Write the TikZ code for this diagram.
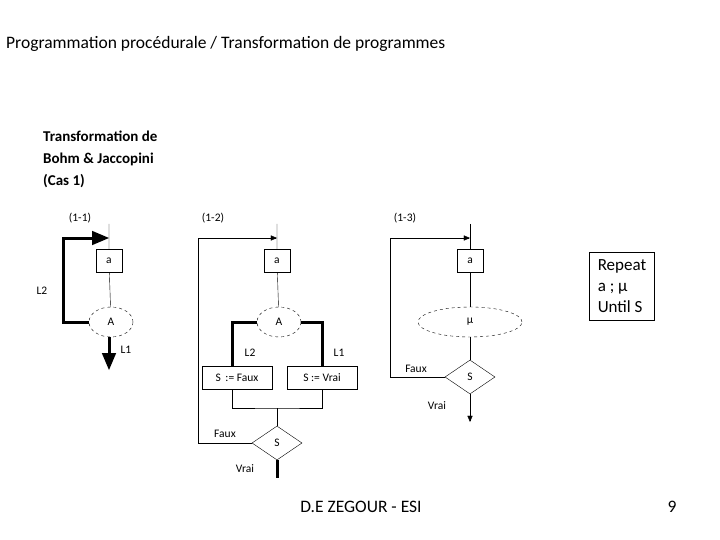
\documentclass[tikz,border=0pt]{standalone}
\usepackage{fontspec}
\setmainfont{Carlito}
\usetikzlibrary{arrows,shapes.geometric,positioning}
\tikzset{
	blk/.style={draw, minimum width=26pt, minimum height=23pt, inner sep=1pt, font=\fontsize{11.5}{13}\selectfont},
	cond/.style={draw, dashed, ellipse, minimum width=44pt, minimum height=30pt, inner sep=0pt, font=\fontsize{11.5}{13}\selectfont},
	test/.style={draw, diamond, aspect=1.5, minimum width=50pt, minimum height=34pt, inner sep=0pt, font=\fontsize{11.5}{13}\selectfont},
	lab/.style={font=\fontsize{11.5}{13}\selectfont, inner sep=0pt},
	thick path/.style={line width=3pt},
}
\begin{document}
\begin{tikzpicture}[x=1pt,y=-1pt,>=triangle 45]
\useasboundingbox (0,0) rectangle (720,540);
\node[anchor=west,inner sep=0pt,font=\fontsize{17.5}{20}\selectfont] (title) at (6,44) {Programmation procédurale / Transformation de programmes};
\node[anchor=north west,inner sep=0pt,align=left,font=\bfseries\fontsize{15}{22}\selectfont] (head) at (43,131) {Transformation de\\Bohm \& Jaccopini\\(Cas 1)};
\node[font=\fontsize{17.5}{20}\selectfont] (foot) at (361,507) {D.E ZEGOUR - ESI};
\node[font=\fontsize{17.5}{20}\selectfont] (num) at (672,507) {9};
% (1-1)
\node[lab] (c11) at (80,218) {(1-1)};
\coordinate (t11) at (109,224);
\coordinate (j11) at (109,238);
\node[blk] (a11) at (109,261) {a};
\node[cond] (A11) at (111,322) {A};
\coordinate (e11) at (109,370);
\draw (t11) -- (a11) -- (A11);
\draw[thick path,->] (A11.west) -- ++(-25,0) |- (j11);
\draw[thick path,->] (A11.south -| e11) -- (e11);
\node[lab] (l211) at (42,291) {L2};
\node[lab] (l111) at (126,350) {L1};
% (1-2)
\node[lab] (c12) at (213,218) {(1-2)};
\coordinate (t12) at (277,224);
\coordinate (j12) at (277,238);
\node[blk] (a12) at (277,261) {a};
\node[cond] (A12) at (279,322) {A};
\node[blk,minimum width=70pt] (sf) at (237,378) {S \,:= Faux};
\node[blk,minimum width=70pt] (sv) at (322,378) {S := Vrai};
\node[test] (s12) at (277,443) {S};
\coordinate (m12) at (277,408);
\coordinate (e12) at (277,478);
\draw (t12) -- (a12) -- (A12);
\draw[thick path] (A12.west) -| ([xshift=-5pt]sf.north);
\draw[thick path] (A12.east) -| (sv.north);
\draw ([xshift=-5pt]sf.south) |- (m12) -| (sv.south);
\draw (m12) -- (s12.north);
\draw[->] (s12.west) -- ++(-54,0) |- (j12);
\draw[thick path] (s12.south) -- (e12);
\node[lab] (l212) at (250,353) {L2};
\node[lab] (l112) at (339,353) {L1};
\node[lab] (f12) at (225,434) {Faux};
\node[lab] (v12) at (245,469) {Vrai};
% (1-3)
\node[lab] (c13) at (405,218) {(1-3)};
\coordinate (t13) at (470,224);
\coordinate (j13) at (470,238);
\node[blk] (a13) at (470,261) {a};
\node[cond,minimum width=104pt] (mu) at (470,322) {µ};
\node[test] (s13) at (470,377) {S};
\coordinate (e13) at (470,422);
\draw (t13) -- (a13) -- (mu) -- (s13);
\draw[->] (s13.west) -- ++(-55,0) |- (j13);
\draw[->] (s13.south) -- (e13);
\node[lab] (f13) at (416,369) {Faux};
\node[lab] (v13) at (437,406) {Vrai};
\node[draw,align=left,minimum width=65pt,minimum height=68pt,inner sep=3pt,font=\fontsize{17}{21}\selectfont] (rep) at (622,286) {Repeat\\a ; µ\\Until S};
\end{tikzpicture}
\end{document}
